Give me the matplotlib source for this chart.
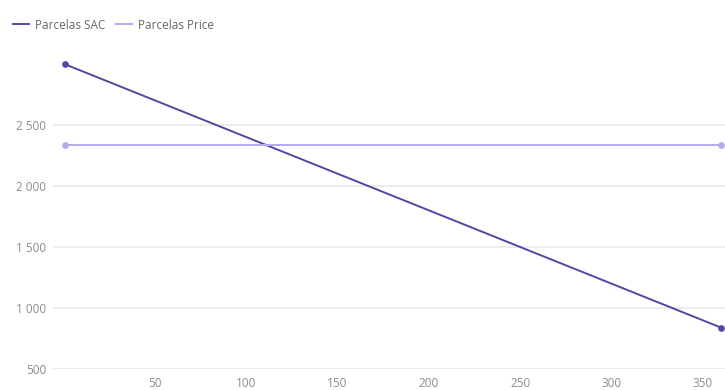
import matplotlib
matplotlib.use("Agg")
import matplotlib.pyplot as plt
from matplotlib.ticker import FuncFormatter

# Installment number (first and last payment) and payment values
parcelas = [1, 360]
sac = [2993, 839]
price = [2337, 2337]

series_names = ["Parcelas SAC", "Parcelas Price"]
x_ticks = [50, 100, 150, 200, 250, 300, 350]
y_ticks = [500, 1000, 1500, 2000, 2500]

plt.rcParams["font.family"] = ["Open Sans", "DejaVu Sans"]

W, H = 725, 390
fig = plt.figure(figsize=(W / 100, H / 100), dpi=100)
left, right, top, bottom = 53, 725, 52, 369
ax = fig.add_axes([left / W, (H - bottom) / H, (right - left) / W, (bottom - top) / H])

sac_color = "#5646a4"
price_color = "#b8a8f0"

l1, = ax.plot(parcelas, sac, color=sac_color, lw=1.4, marker="o", ms=3.8,
              label=series_names[0], zorder=3, clip_on=False)
l2, = ax.plot(parcelas, price, color=price_color, lw=1.4, marker="o", ms=3.8,
              label=series_names[1], zorder=3, clip_on=False)

ax.set_xlim(-5.8, 362.2)
ax.set_ylim(500, 3095)
ax.set_xticks(x_ticks)
ax.set_yticks(y_ticks)

def thousands(v, pos):
    return f"{int(v):,}".replace(",", " ")

ax.yaxis.set_major_formatter(FuncFormatter(thousands))
ax.grid(axis="y", color="#e9e9e9", lw=1.2)
ax.set_axisbelow(True)
for s in ax.spines.values():
    s.set_visible(False)
ax.tick_params(axis="both", length=0, colors="#8c8c8c", labelsize=8.5)
ax.tick_params(axis="y", pad=5)
ax.tick_params(axis="x", pad=6)

leg = fig.legend(handles=[l1, l2], loc="upper left", bbox_to_anchor=(2 / W, 1 - 8 / H),
                 ncol=2, frameon=False, fontsize=8.5, handlelength=1.4,
                 handletextpad=0.5, columnspacing=0.9, labelcolor="#666666")
for h in leg.legend_handles:
    h.set_marker("")

fig.savefig("out.png", dpi=100, facecolor="white")
